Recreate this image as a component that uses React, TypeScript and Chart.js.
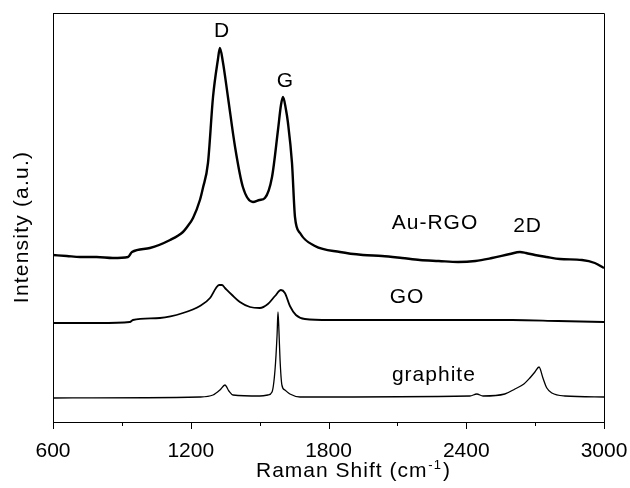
import React, { useEffect, useRef } from "react";
import { Chart, registerables } from "chart.js";

Chart.register(...registerables);

// ---- data ----
const xTickValues = [600, 1200, 1800, 2400, 3000];
const xMinorTickValues = [900, 1500, 2100, 2700];

const auRgoShift = [
  600, 660, 718, 790, 861, 927, 944, 1022, 1110, 1166, 1184, 1210, 1240, 1253, 1275, 1297, 1318, 1327, 1340,
  1362, 1393, 1427, 1471, 1500, 1523, 1554, 1580, 1593, 1602, 1615, 1623, 1641, 1654, 1676, 1741, 1850,
  1950, 2033, 2120, 2198, 2280, 2364, 2440, 2512, 2590, 2634, 2660, 2699, 2750, 2808, 2904, 2960, 3000,
];
const auRgoIntensity = [
  167, 166, 165, 165, 164, 165, 170, 174, 182, 190, 195, 204, 222, 234, 259, 325, 362, 374, 360,
  325, 275, 235, 220, 222, 224, 245, 292, 317, 325, 312, 300, 259, 205, 189, 176, 170,
  167, 166, 164, 162, 161, 160, 161, 164, 168, 170, 169, 167, 165, 163, 162, 159, 154,
];

const goShift = [
  600, 700, 800, 935, 948, 1066, 1166, 1240, 1284, 1310, 1323, 1336, 1349, 1380, 1414, 1458, 1501, 1536,
  1567, 1593, 1610, 1632, 1658, 1697, 1806, 2000, 2329, 2600, 2800, 3000,
];
const goIntensity = [
  99, 99, 99, 100, 102, 104, 109, 116, 124, 134, 137, 137, 134, 127, 120, 115, 114, 118,
  126, 132, 129, 116, 107, 103, 102, 102, 102, 102, 101, 100,
];

const graphiteShift = [
  600, 1240, 1297, 1327, 1349, 1366, 1384, 1501, 1536, 1554, 1567, 1576, 1580, 1584, 1589, 1597, 1610,
  1632, 1676, 2416, 2446, 2473, 2568, 2612, 2651, 2677, 2699, 2717, 2734, 2751, 2773, 2830, 3000,
];
const graphiteIntensity = [
  24, 25, 27, 32, 37, 31, 27, 26, 27, 30, 52, 87, 110, 92, 62, 37, 32,
  28, 25, 26, 28, 26, 28, 33, 38, 44, 50, 55, 44, 34, 29, 26, 25,
];

const peakLabels = ["D", "G", "2D"];
const sampleLabels = ["Au-RGO", "GO", "graphite"];

const FONT = "'Liberation Sans', Arial, Helvetica, sans-serif";

function toPoints(xs: number[], ys: number[]) {
  return xs.map((x, i) => ({ x, y: ys[i] }));
}

const decorPlugin = {
  id: "decor",
  afterDraw(chart: any) {
    const { ctx, chartArea, scales } = chart;
    const xs = scales.x;
    const ys = scales.y;
    ctx.save();
    ctx.strokeStyle = "#000";
    ctx.lineWidth = 1;
    // top and right frame
    ctx.beginPath();
    ctx.moveTo(Math.round(chartArea.left) + 0.5, Math.round(chartArea.top) + 0.5);
    ctx.lineTo(Math.round(chartArea.right) + 0.5, Math.round(chartArea.top) + 0.5);
    ctx.lineTo(Math.round(chartArea.right) + 0.5, Math.round(chartArea.bottom) + 0.5);
    ctx.stroke();
    // ticks on x axis (outside)
    const yb = Math.round(chartArea.bottom);
    ctx.beginPath();
    xTickValues.forEach((v) => {
      const px = Math.round(xs.getPixelForValue(v)) + 0.5;
      ctx.moveTo(px, yb);
      ctx.lineTo(px, yb + 7);
    });
    xMinorTickValues.forEach((v) => {
      const px = Math.round(xs.getPixelForValue(v)) + 0.5;
      ctx.moveTo(px, yb);
      ctx.lineTo(px, yb + 4);
    });
    ctx.stroke();

    // annotations
    ctx.fillStyle = "#000";
    ctx.font = `21px ${FONT}`;
    (ctx as any).letterSpacing = "1px";
    ctx.textBaseline = "alphabetic";
    ctx.textAlign = "center";
    const ann: [string, number, number][] = [
      [peakLabels[0], 1336, 385],
      [peakLabels[1], 1612, 335],
      [peakLabels[2], 2667, 190],
      [sampleLabels[0], 2264, 193],
      [sampleLabels[1], 2142, 119],
      [sampleLabels[2], 2259, 41],
    ];
    ann.forEach(([t, x, y]) => {
      ctx.fillText(t, xs.getPixelForValue(x), ys.getPixelForValue(y));
    });

    // x title
    ctx.textAlign = "left";
    const tx = 256;
    const tb = 477;
    const main = "Raman Shift (cm";
    ctx.font = `21px ${FONT}`;
    ctx.fillText(main, tx, tb);
    const w = ctx.measureText(main).width;
    ctx.font = `13px ${FONT}`;
    ctx.fillText("-1", tx + w + 1, tb - 8);
    const w2 = ctx.measureText("-1").width;
    ctx.font = `21px ${FONT}`;
    ctx.fillText(")", tx + w + 1 + w2 + 1, tb);

    // y title
    ctx.translate(22, 227);
    ctx.rotate(-Math.PI / 2);
    ctx.textAlign = "center";
    ctx.textBaseline = "middle";
    ctx.font = `21px ${FONT}`;
    (ctx as any).letterSpacing = "1.2px";
    ctx.fillText("Intensity (a.u.)", 0, 0);
    ctx.restore();
  },
};

export default function App() {
  const ref = useRef<HTMLCanvasElement | null>(null);
  useEffect(() => {
    if (!ref.current) return;
    const chart = new Chart(ref.current, {
      type: "line",
      data: {
        datasets: [
          {
            label: sampleLabels[0],
            data: toPoints(auRgoShift, auRgoIntensity),
            borderColor: "#000",
            borderWidth: 2.4,
            pointRadius: 0,
            cubicInterpolationMode: "monotone",
            fill: false,
          },
          {
            label: sampleLabels[1],
            data: toPoints(goShift, goIntensity),
            borderColor: "#000",
            borderWidth: 1.8,
            pointRadius: 0,
            cubicInterpolationMode: "monotone",
            fill: false,
          },
          {
            label: sampleLabels[2],
            data: toPoints(graphiteShift, graphiteIntensity),
            borderColor: "#000",
            borderWidth: 1.3,
            pointRadius: 0,
            cubicInterpolationMode: "monotone",
            fill: false,
          },
        ],
      },
      options: {
        responsive: false,
        animation: false,
        layout: { padding: { top: 13, right: 26, left: 0, bottom: 0 } },
        plugins: { legend: { display: false }, tooltip: { enabled: false } },
        scales: {
          x: {
            type: "linear",
            min: 600,
            max: 3000,
            afterBuildTicks: (s: any) => {
              s.ticks = xTickValues.map((v) => ({ value: v }));
            },
            ticks: {
              color: "#000",
              font: { family: FONT, size: 21 },
              padding: 17,
              maxRotation: 0,
              autoSkip: false,
              callback: (v: any) => String(v),
            },
            grid: { display: false, drawTicks: false },
            border: { display: true, color: "#000", width: 1 },
            afterFit: (s: any) => {
              s.height = 66;
              s.paddingLeft = 0;
              s.paddingRight = 0;
            },
          },
          y: {
            min: 0,
            max: 409,
            ticks: { display: false },
            grid: { display: false, drawTicks: false },
            border: { display: true, color: "#000", width: 1 },
            afterFit: (s: any) => {
              s.width = 53;
            },
          },
        },
      } as any,
      plugins: [decorPlugin],
    });
    return () => chart.destroy();
  }, []);
  return (
    <div style={{ position: "fixed", left: 0, top: 0, width: 630, height: 488, background: "#fff" }}>
      <canvas ref={ref} width={630} height={488} />
    </div>
  );
}
